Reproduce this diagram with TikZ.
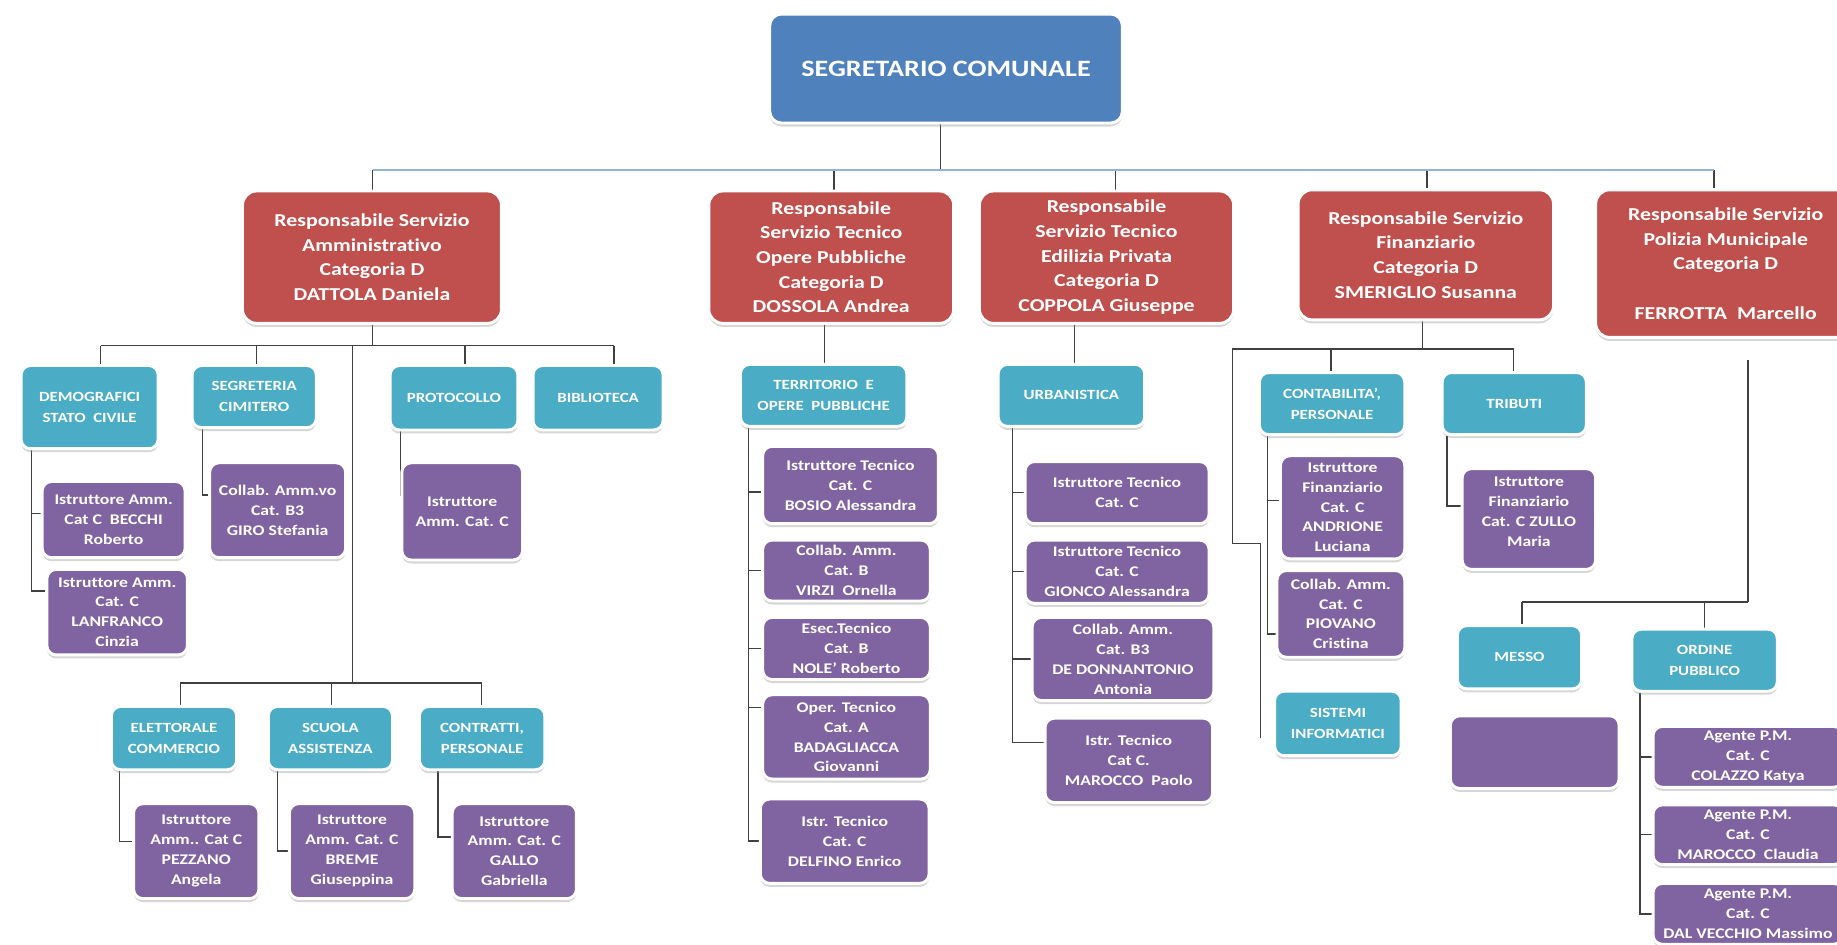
\documentclass[tikz,border=0pt]{standalone}
\usepackage{fontspec}
\setmainfont{Carlito}[FakeStretch=1.2, Ligatures=NoCommon]
\usetikzlibrary{shadows}
\definecolor{cred}{HTML}{C0504D}
\definecolor{cblue}{HTML}{4F81BD}
\definecolor{cteal}{HTML}{4BACC6}
\definecolor{cpurp}{HTML}{8064A2}
\definecolor{cline}{HTML}{404040}
\definecolor{clblue}{HTML}{95B3D7}
\pgfdeclarelayer{background}
\pgfsetlayers{background,main}
\tikzset{
 box/.style={draw=white, line width=2.5pt, text=white, align=center, inner sep=0pt,
   drop shadow={shadow xshift=0pt, shadow yshift=-3pt, opacity=0.35, fill=black!45}},
 topbox/.style={box, fill=cblue, rounded corners=10pt, font=\bfseries\fontsize{20}{24}\selectfont},
 redbox/.style={box, fill=cred, rounded corners=12pt, font=\bfseries\fontsize{15.5}{21}\selectfont},
 tealbox/.style={box, fill=cteal, rounded corners=8pt, font=\bfseries\fontsize{12}{18}\selectfont},
 purpbox/.style={box, fill=cpurp, rounded corners=8pt, font=\bfseries\fontsize{12.6}{17}\selectfont},
 conn/.style={draw=cline, line width=1.2pt},
 sz/.style 2 args={minimum width=#1pt, minimum height=#2pt},
}
\begin{document}
\begin{tikzpicture}[x=1pt,y=-1pt]
\useasboundingbox (0,0) rectangle (1568,806);

% top
\node[topbox, sz={301}{93}] (sec) at (807.5,58.5) {SEGRETARIO COMUNALE};

% red boxes
\node[redbox, sz={221}{113}] (dat) at (317.5,219.5) {Responsabile Servizio\\Amministrativo\\Categoria D\\DATTOLA Daniela};
\node[redbox, sz={209}{113}] (dos) at (709.5,219.5) {Responsabile\\Servizio Tecnico\\Opere Pubbliche\\Categoria D\\DOSSOLA Andrea};
\node[redbox, sz={217}{113}] (cop) at (944.5,219.5) {Responsabile\\Servizio Tecnico\\Edilizia Privata\\Categoria D\\COPPOLA Giuseppe};
\node[redbox, sz={218}{111}] (sme) at (1217,217.5) {Responsabile Servizio\\Finanziario\\Categoria D\\SMERIGLIO Susanna};
\node[redbox, sz={222}{126}] (fer) at (1473,225) {Responsabile Servizio\\Polizia Municipale\\Categoria D\\\mbox{}\\FERROTTA~~Marcello};

% Dattola subtree
\node[tealbox, sz={117}{71}] (demo) at (76.5,347.5) {DEMOGRAFICI\\STATO~~CIVILE};
\node[tealbox, sz={106}{53}] (segr) at (217,338.5) {SEGRETERIA\\CIMITERO};
\node[tealbox, sz={109}{55}] (prot) at (387.5,339.5) {PROTOCOLLO};
\node[tealbox, sz={111}{55}] (bibl) at (510.5,339.5) {BIBLIOTECA};
\node[purpbox, sz={122}{65}] (becchi) at (97,443.5) {Istruttore Amm.\\Cat C~~BECCHI\\Roberto};
\node[purpbox, sz={120}{73}] (lanfr) at (100,522.5) {Istruttore Amm.\\Cat. C\\LANFRANCO\\Cinzia};
\node[purpbox, sz={116}{81}] (giro) at (237,435.5) {Collab. Amm.vo\\Cat. B3\\GIRO Stefania};
\node[purpbox, sz={103}{83}] (protc) at (394.5,436.5) {Istruttore\\Amm. Cat. C};
\node[tealbox, sz={107}{54}] (elet) at (148.5,630) {ELETTORALE\\COMMERCIO};
\node[tealbox, sz={106}{54}] (scuo) at (282,630) {SCUOLA\\ASSISTENZA};
\node[tealbox, sz={107}{54}] (contr) at (411.5,630) {CONTRATTI,\\PERSONALE};
\node[purpbox, sz={107}{81}] (pezz) at (167.5,726.5) {Istruttore\\Amm.. Cat C\\PEZZANO\\Angela};
\node[purpbox, sz={107}{81}] (breme) at (300.5,726.5) {Istruttore\\Amm. Cat. C\\BREME\\Giuseppina};
\node[purpbox, sz={106}{81}] (gallo) at (439,726.5) {Istruttore\\Amm. Cat. C\\GALLO\\Gabriella};

% Dossola subtree
\node[tealbox, sz={142}{53}] (terr) at (703,337.5) {TERRITORIO~~E\\OPERE~~PUBBLICHE};
\node[purpbox, sz={150}{66}] (bosio) at (726,414) {Istruttore Tecnico\\Cat. C\\BOSIO Alessandra};
\node[purpbox, sz={143}{52}] (virzi) at (722.5,487) {Collab. Amm.\\Cat. B\\VIRZI~~Ornella};
\node[purpbox, sz={143}{53}] (nole) at (722.5,553.5) {Esec.Tecnico\\Cat. B\\NOLE' Roberto};
\node[purpbox, sz={143}{72}] (bada) at (722.5,629) {Oper. Tecnico\\Cat. A\\BADAGLIACCA\\Giovanni};
\node[purpbox, sz={144}{72}] (delf) at (721,718) {Istr. Tecnico\\Cat. C\\DELFINO Enrico};

% Coppola subtree
\node[tealbox, sz={125}{53}] (urb) at (914.5,337.5) {URBANISTICA};
\node[purpbox, sz={157}{53}] (it1) at (953.5,420.5) {Istruttore Tecnico\\Cat. C};
\node[purpbox, sz={157}{54}] (gion) at (953.5,488) {Istruttore Tecnico\\Cat. C\\GIONCO Alessandra};
\node[purpbox, sz={155}{71}] (dedon) at (958.5,562.5) {Collab. Amm.\\Cat. B3\\DE DONNANTONIO\\Antonia};
\node[purpbox, sz={143}{72}] (marop) at (963.5,649) {Istr. Tecnico\\Cat C.\\MAROCCO~~Paolo};

% Smeriglio subtree
\node[tealbox, sz={124}{53}] (cont) at (1137,344.5) {CONTABILITA',\\PERSONALE};
\node[tealbox, sz={123}{53}] (trib) at (1292.5,344.5) {TRIBUTI};
\node[purpbox, sz={106}{88}] (andr) at (1146,433) {Istruttore\\Finanziario\\Cat. C\\ANDRIONE\\Luciana};
\node[purpbox, sz={109}{74}] (piov) at (1144.5,524) {Collab. Amm.\\Cat. C\\PIOVANO\\Cristina};
\node[tealbox, sz={108}{55}] (sist) at (1142,617.5) {SISTEMI\\INFORMATICI};
\node[purpbox, sz={114}{86}] (zullo) at (1305,443) {Istruttore\\Finanziario\\Cat. C ZULLO\\Maria\\[-4pt]\mbox{}};

% Ferrotta subtree
\node[tealbox, sz={106}{54}] (messo) at (1297,561) {MESSO};
\node[tealbox, sz={124}{53}] (ord) at (1455,563.5) {ORDINE\\PUBBLICO};
\node[purpbox, sz={144}{62}] (empty) at (1310,642) {};
\node[purpbox, sz={162}{52}] (colaz) at (1492,646) {Agente P.M.\\Cat. C\\COLAZZO Katya};
\node[purpbox, sz={162}{51}] (claud) at (1492,712.5) {Agente P.M.\\Cat. C\\MAROCCO~~Claudia};
\node[purpbox, sz={162}{52}] (dalv) at (1492,780) {Agente P.M.\\Cat. C\\DAL VECCHIO Massimo};

\begin{pgfonlayer}{background}
\fill[white] (0,0) rectangle (1568,806);
% top level
\coordinate (hc) at (803,145);
\coordinate (t1) at (318,145);
\coordinate (t2) at (712,145);
\coordinate (t3) at (952,145);
\coordinate (t4) at (1218,145);
\coordinate (t5) at (1463,145);
\draw[conn] (sec.south -| hc) -- (hc);
\draw[conn] (t1) -- (t1 |- dat.north);
\draw[conn] (t2) -- (t2 |- dos.north);
\draw[conn] (t3) -- (t3 |- cop.north);
\draw[conn] (t4) -- (t4 |- sme.north);
\draw[conn] (t5) -- (t5 |- fer.north);
\draw[draw=clblue, line width=1.6pt] (t1) -- (t5);

% Dattola
\coordinate (d1) at (318,295);
\coordinate (dL) at (86,295);
\coordinate (dS) at (219,295);
\coordinate (dV) at (301,295);
\coordinate (dP) at (397,295);
\coordinate (dR) at (524,295);
\draw[conn] (dat.south -| d1) -- (d1);
\draw[conn] (dL) -- (dR);
\draw[conn] (dL) -- (dL |- demo.north);
\draw[conn] (dS) -- (dS |- segr.north);
\draw[conn] (dP) -- (dP |- prot.north);
\draw[conn] (dR) -- (dR |- bibl.north);
\coordinate (a1) at (27,0);
\draw[conn] (a1 |- demo.south) |- ([yshift=18pt]lanfr.west);
\draw[conn] ([yshift=5pt]a1 |- becchi.west) -- ([yshift=5pt]becchi.west);
\coordinate (a2) at (173,0);
\draw[conn] (a2 |- segr.south) |- ([yshift=13pt]giro.west);
\coordinate (a3) at (342,0);
\draw[conn] (a3 |- prot.south) |- ([yshift=14pt]protc.west);
\coordinate (eC) at (301,583);
\coordinate (eL) at (154,583);
\coordinate (eM) at (283,583);
\coordinate (eR) at (411,583);
\draw[conn] (dV) -- (eC);
\draw[conn] (eL) -- (eR);
\draw[conn] (eL) -- (eL |- elet.north);
\draw[conn] (eM) -- (eM |- scuo.north);
\draw[conn] (eR) -- (eR |- contr.north);
\coordinate (a4) at (102,0);
\draw[conn] (a4 |- elet.south) |- ([yshift=8pt]pezz.west);
\coordinate (a5) at (237,0);
\draw[conn] (a5 |- scuo.south) |- (breme.west);
\coordinate (a6) at (374,0);
\draw[conn] (a6 |- contr.south) |- ([yshift=12pt]gallo.west);

% Dossola
\coordinate (p1) at (704,0);
\draw[conn] (p1 |- dos.south) -- (p1 |- terr.north);
\coordinate (p2) at (639,0);
\draw[conn] (p2 |- terr.south) |- (delf.west);
\draw[conn] ([yshift=-6pt]p2 |- bosio.west) -- ([yshift=-6pt]bosio.west);
\draw[conn] (p2 |- virzi.west) -- (virzi.west);
\draw[conn] (p2 |- nole.west) -- (nole.west);
\draw[conn] ([yshift=25pt]p2 |- bada.west) -- ([yshift=25pt]bada.west);

% Coppola
\coordinate (c1) at (917,0);
\draw[conn] (c1 |- cop.south) -- (c1 |- urb.north);
\coordinate (c2) at (864,0);
\draw[conn] (c2 |- urb.south) |- ([yshift=15pt]marop.west);
\draw[conn] (c2 |- it1.west) -- (it1.west);
\draw[conn] (c2 |- gion.west) -- (gion.west);
\draw[conn] (c2 |- dedon.west) -- (dedon.west);

% Smeriglio
\coordinate (s1) at (1214,298);
\coordinate (sL) at (1052,298);
\coordinate (sC) at (1136,298);
\coordinate (sR) at (1292,298);
\coordinate (sJ) at (1052,464);
\coordinate (sJ2) at (1076,464);
\coordinate (sE) at (1076,630);
\draw[conn] (sme.south -| s1) -- (s1);
\draw[conn] (sL) -- (sR);
\draw[conn] (sC) -- (sC |- cont.north);
\draw[conn] (sR) -- (sR |- trib.north);
\draw[conn] (sL) -- (sJ) -- (sJ2) -- (sE);
\coordinate (s2) at (1082,0);
\draw[conn] (s2 |- cont.south) |- ([yshift=-17pt]piov.west);
\draw[conn] ([yshift=6pt]s2 |- andr.west) -- ([yshift=6pt]andr.west);
\coordinate (s3) at (1235,0);
\draw[conn] (s3 |- trib.south) |- ([yshift=11pt]zullo.west);

% Ferrotta
\coordinate (f1) at (1492,307);
\coordinate (f2) at (1492,514);
\coordinate (fL) at (1299,514);
\coordinate (fO) at (1455,514);
\draw[conn] (f1) -- (f2);
\draw[conn] (fL) -- (f2);
\draw[conn] (fL) -- (fL |- messo.north);
\draw[conn] (fO) -- (fO |- ord.north);
\coordinate (o1) at (1400,0);
\draw[conn] (o1 |- ord.south) |- (dalv.west);
\draw[conn] (o1 |- colaz.west) -- (colaz.west);
\draw[conn] (o1 |- claud.west) -- (claud.west);
\end{pgfonlayer}
\end{tikzpicture}
\end{document}
